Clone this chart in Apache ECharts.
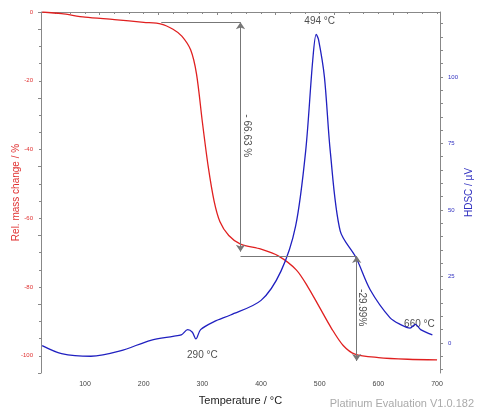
<!DOCTYPE html><html><head><meta charset="utf-8">
<script src="https://cdn.jsdelivr.net/npm/echarts@6/dist/echarts.min.js"></script>
<style>html,body{margin:0;background:#fff}#c{width:480px;height:413px}</style></head><body><div id="c"></div>
<script>
const tgaTemp = [27,60,100,150,200,230,250,265,280,290,300,310,320,330,345,365,400,430,460,480,500,520,540,560,600,650,700];
const tgaMass = [0,-0.5,-1.5,-2.2,-3,-3.5,-5,-7,-11,-18,-32,-45,-55,-61,-65,-67.5,-69,-71,-75,-80,-86,-92,-97,-99.5,-100.5,-101,-101.2];
const dscTemp = [27,60,110,160,212,250,264,275,283,289,297,320,348,400,434,459,476,488,494,498,508,518,535,562,586,620,637,654,663,672,692];
const dscVal  = [-1,-4,-5,-3,1,2.5,3,5,4,1.5,5,8,10.5,16,27,44,72,106,116,114,100,72,42,32,20,9.4,7,5.6,7,5,3];
const xTicks = [100,200,300,400,500,600,700];
const ann1 = {t:365, top:-3, bot:-69.7, hx0:230};
const ann2 = {t:563, top:-71, bot:-101.5, hx0:365};
const fs = 'Liberation Sans';
const chart = echarts.init(document.getElementById('c'));
const grey = '#888';
const ml = (pairs) => ({silent:true, symbol:['none','none'], lineStyle:{color:'#777',width:1,type:'solid'}, label:{show:false}, data:pairs});
chart.setOption({
  animation:false,
  textStyle:{fontFamily:fs},
  grid:{left:41,right:40,top:12,bottom:40,containLabel:false,outerBoundsMode:'none'},
  xAxis:{type:'value',min:25,max:705,interval:100,
    name:'Temperature / °C',nameLocation:'middle',nameGap:22,nameTextStyle:{color:'#222',fontSize:11},
    axisLine:{lineStyle:{color:grey}},axisTick:{lineStyle:{color:grey},length:3},
    minorTick:{show:true,splitNumber:4,length:2,lineStyle:{color:grey}},
    axisLabel:{fontSize:7,color:'#444',customValues:xTicks},splitLine:{show:false}},
  yAxis:[
    {type:'value',min:-105,max:0,interval:20,
     name:'Rel. mass change / %',nameLocation:'middle',nameGap:20,nameMoveOverlap:false,nameTextStyle:{color:'#e03030',fontSize:10},
     axisLine:{show:true,lineStyle:{color:grey}},axisTick:{show:true,lineStyle:{color:grey},length:3},
     minorTick:{show:true,splitNumber:4,length:2,lineStyle:{color:grey}},
     axisLabel:{fontSize:6,color:'#e03030',customValues:[0,-20,-40,-60,-80,-100]},splitLine:{show:false}},
    {type:'value',min:-11.3,max:124.4,position:'right',
     name:'HDSC / µV',nameLocation:'middle',nameGap:24,nameMoveOverlap:false,nameRotate:90,nameTextStyle:{color:'#3030c0',fontSize:10},
     axisLine:{show:true,lineStyle:{color:grey}},axisTick:{show:true,lineStyle:{color:grey},length:3,customValues:[-10,-5,0,5,10,15,20,25,30,35,40,45,50,55,60,65,70,75,80,85,90,95,100,105,110,115,120]},
     axisLabel:{fontSize:6,color:'#3030c0',customValues:[0,25,50,75,100]},splitLine:{show:false}}
  ],
  series:[
    {type:'line',yAxisIndex:0,showSymbol:false,smooth:0.3,lineStyle:{color:'#e02020',width:1.3},
     data:tgaTemp.map((t,i)=>[t,tgaMass[i]]),
     markLine:{silent:true,symbol:['arrow','arrow'],symbolSize:7,lineStyle:{color:'#777',width:1,type:'solid'},label:{show:false},
       data:[[{coord:[ann1.t,ann1.top]},{coord:[ann1.t,ann1.bot]}],[{coord:[ann2.t,ann2.top]},{coord:[ann2.t,ann2.bot]}]]}},
    {type:'line',yAxisIndex:0,showSymbol:false,data:[],
     markLine:ml([[{coord:[ann1.hx0,ann1.top]},{coord:[ann1.t,ann1.top]}],[{coord:[ann2.hx0,ann2.top]},{coord:[ann2.t,ann2.top]}]])},
    {type:'line',yAxisIndex:1,showSymbol:false,smooth:0.3,lineStyle:{color:'#2020c0',width:1.3},
     data:dscTemp.map((t,i)=>[t,dscVal[i]])},
    {type:'scatter',yAxisIndex:0,symbolSize:0,
     label:{show:true,color:'#222',fontSize:10,rotate:-90,formatter:p=>p.name},
     data:[{name:'- 66.63 %',value:[375,-36]},{name:'-29.99%',value:[572,-86]}]},
    {type:'scatter',yAxisIndex:1,symbolSize:0,
     label:{show:true,color:'#222',fontSize:10,formatter:p=>p.name},
     data:[{name:'494 °C',value:[500,121]},{name:'290 °C',value:[300,-4.5]},{name:'660 °C',value:[670,7]}]}
  ],
  graphic:[{type:'text',right:6,bottom:4,style:{text:'Platinum Evaluation V1.0.182',fill:'#aaa',fontSize:11,fontFamily:fs}}]
});
</script></body></html>
